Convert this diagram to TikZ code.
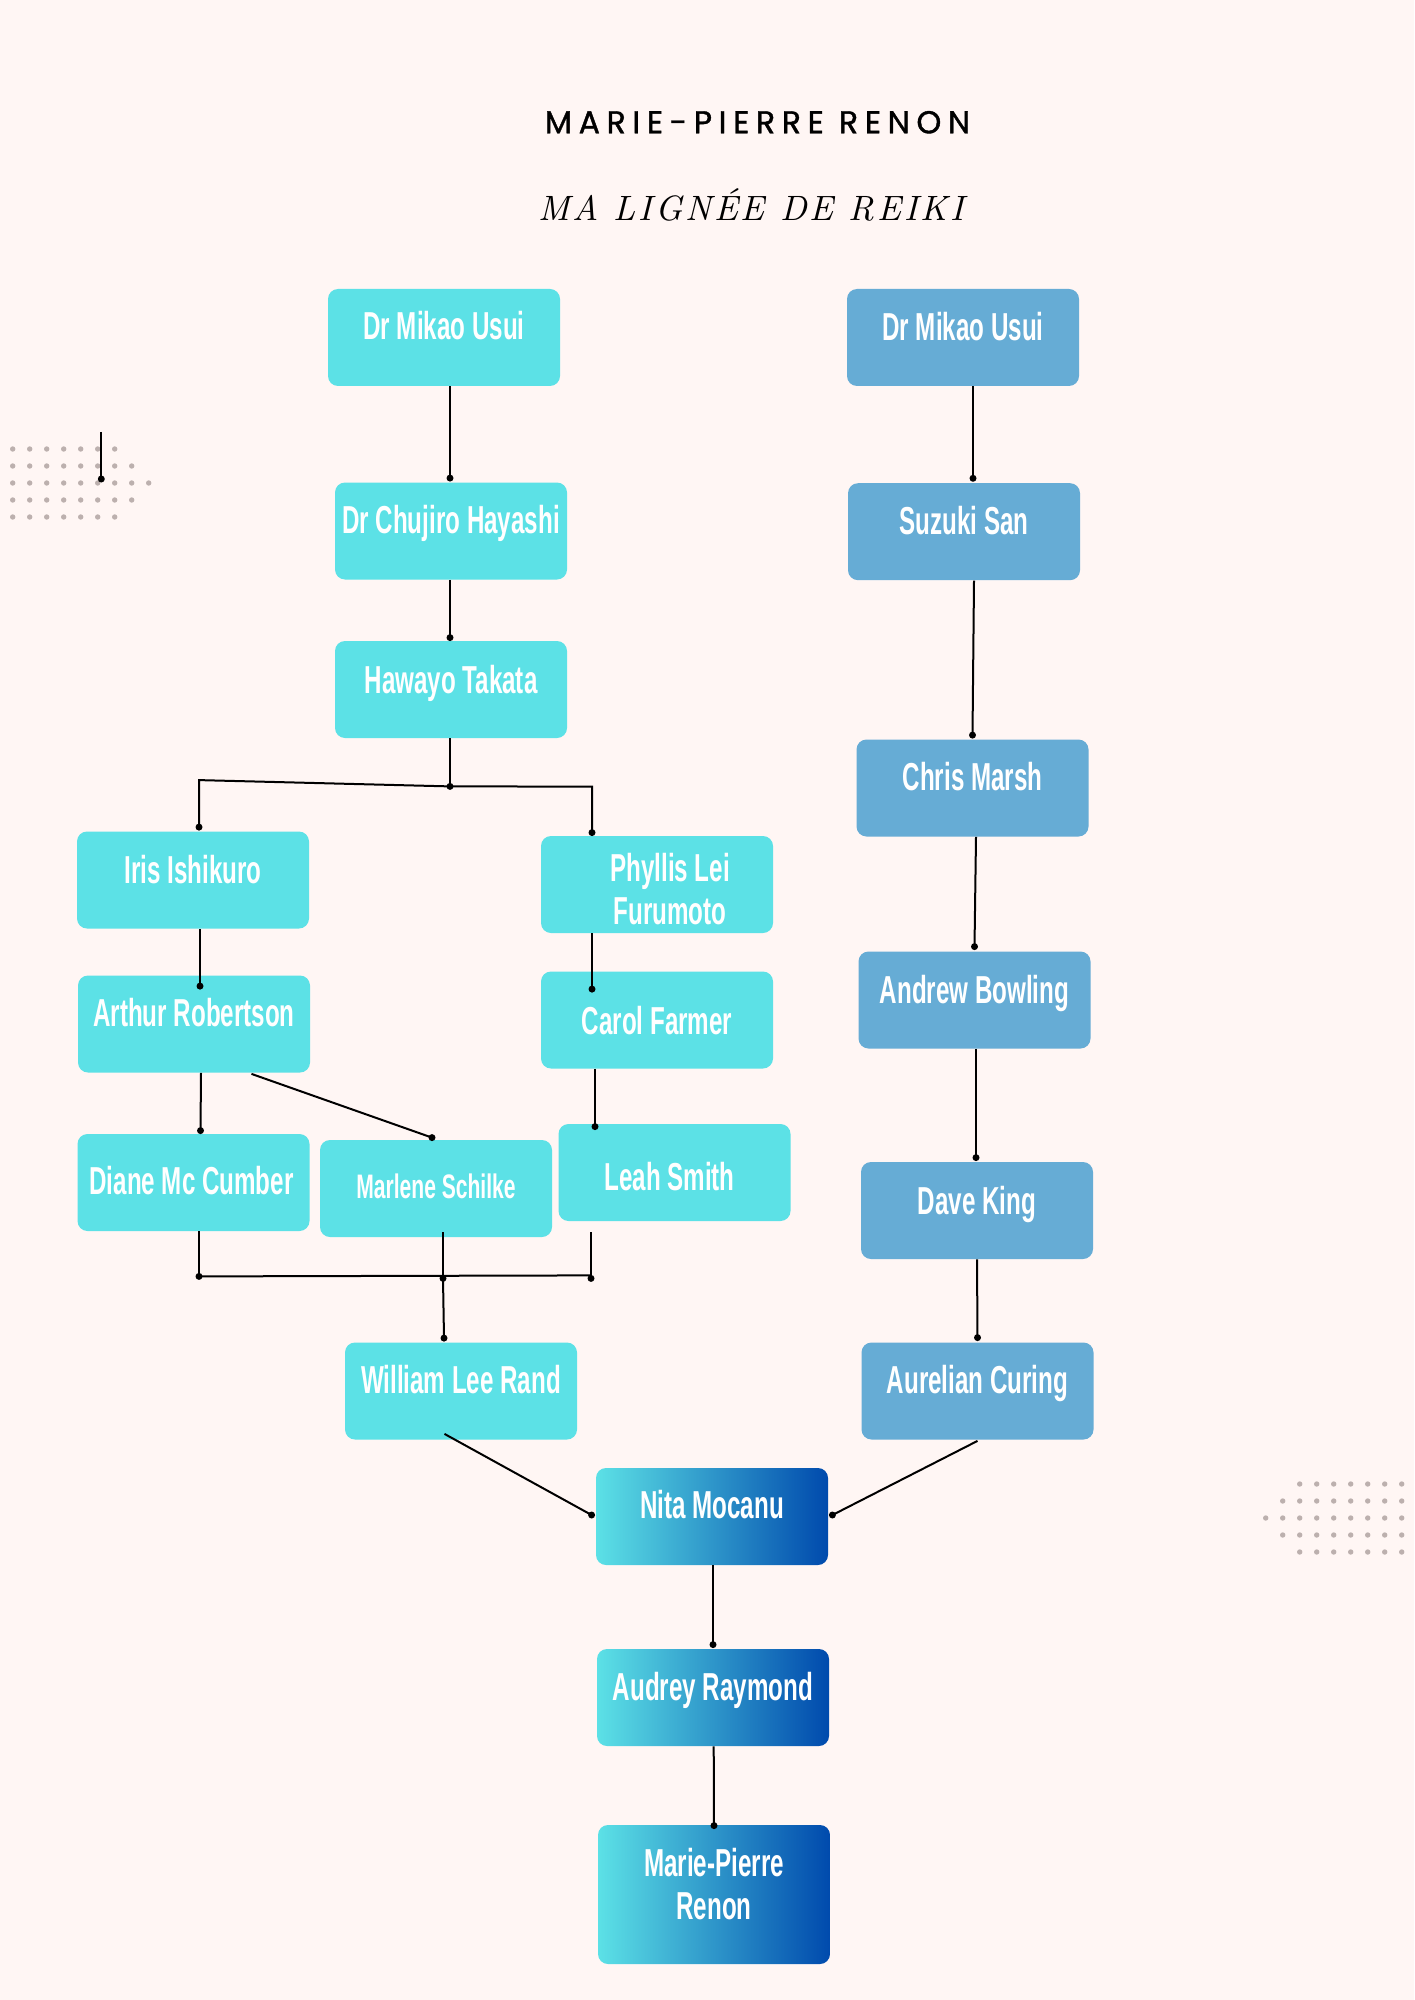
\documentclass[tikz,border=0pt]{standalone}
\usepackage{fontspec}
\usetikzlibrary{calc}
\newfontfamily\boxfont{Liberation Sans}[FakeStretch=0.62]
\newfontfamily\titlefont{Poppins}[LetterSpace=21, FakeBold=1.2]
\newfontfamily\subfont{lmroman10-italic.otf}[LetterSpace=8]
\definecolor{bg}{HTML}{FFF6F4}
\definecolor{cyanbox}{HTML}{5CE1E6}
\definecolor{bluebox}{HTML}{66ACD5}
\definecolor{gleft}{HTML}{5CE1E6}
\definecolor{gright}{HTML}{004AAD}
\definecolor{deco}{HTML}{BCB0AE}
\tikzset{
  box/.style={rectangle, rounded corners=5pt, minimum width=116pt, minimum height=48.5pt, inner sep=0pt, draw=none},
  cbox/.style={box, fill=cyanbox},
  bbox/.style={box, fill=bluebox},
  gbox/.style={box, left color=gleft, right color=gright},
  lbl/.style={anchor=base, text=white, inner sep=0pt, font=\boxfont\bfseries\fontsize{19.5}{23}\selectfont},
  conn/.style={line width=1pt, draw=black},
}
\newcommand{\jdot}[1]{\fill[black] (#1) circle[radius=1.75pt];}
\begin{document}
\begin{tikzpicture}[x=0.5pt,y=-0.5pt]
\fill[bg] (0,0) rectangle (1414,2000);
\useasboundingbox (0,0) rectangle (1414,2000);

% titles
\node[anchor=base, inner sep=0pt, font=\titlefont\fontsize{15.8}{18}\selectfont] (title) at (757.5,133.3) {MARIE-PIERRE RENON};
\node[anchor=base, inner sep=0pt, font=\subfont\fontsize{17.6}{20}\selectfont] (subtitle) at (751,220.7) {MA LIGNÉE DE REIKI};

% decorations
\foreach \r/\a/\b in {449/0/6, 466/0/7, 483/0/8, 500/0/7, 517/0/6}{
  \foreach \k in {\a,...,\b}{ \fill[deco] ({12.7+17*\k},\r) circle[radius=1.35pt]; }
}
\foreach \r/\a/\b in {1484/2/8, 1501/1/8, 1518/0/8, 1535/1/8, 1552/2/8}{
  \foreach \k in {\a,...,\b}{ \fill[deco] ({1265.7+17*\k},\r) circle[radius=1.35pt]; }
}
\coordinate (strayA) at (101.3,432);
\coordinate (strayB) at (101.3,479);
\draw[conn] (strayA) -- (strayB); \jdot{strayB}

% left lineage boxes
\node[cbox] (usuiL)   at (444,337.5) {};
\node[cbox] (chujiro) at (451,531) {};
\node[cbox] (takata)  at (451,689.5) {};
\node[cbox] (iris)    at (193,880) {};
\node[cbox] (phyllis) at (657,884.5) {};
\node[cbox] (arthur)  at (194,1024) {};
\node[cbox] (carol)   at (657,1020) {};
\node[cbox] (diane)   at (193.5,1182.5) {};
\node[cbox] (marlene) at (436,1188.5) {};
\node[cbox] (leah)    at (674.5,1172.5) {};
\node[cbox] (william) at (461,1391) {};
% right lineage boxes
\node[bbox] (usuiR)    at (963,337.5) {};
\node[bbox] (suzuki)   at (964,531.7) {};
\node[bbox] (chris)    at (972.5,788) {};
\node[bbox] (andrew)   at (974.5,1000) {};
\node[bbox] (dave)     at (977,1210.5) {};
\node[bbox] (aurelian) at (977.5,1391) {};
% gradient boxes
\node[gbox] (nita)   at (712,1516.5) {};
\node[gbox] (audrey) at (713,1697.5) {};
\node[gbox, minimum height=69.5pt] (marie) at (714,1894.5) {};

% labels
\node[lbl] (usuiLt)   at ($(usuiL.north)+(0,51)$) {Dr Mikao Usui};
\node[lbl] (chujirot) at ($(chujiro.north)+(0,51)$) {Dr Chujiro Hayashi};
\node[lbl] (takatat)  at ($(takata.north)+(0,53)$) {Hawayo Takata};
\node[lbl] (irist)    at ($(iris.north)+(0,52)$) {Iris Ishikuro};
\node[lbl] (phyllist) at ($(phyllis.north)+(13,46)$) {Phyllis Lei};
\node[lbl] (phyllisu) at ($(phyllis.north)+(13,89)$) {Furumoto};
\node[lbl] (arthurt)  at ($(arthur.north)+(0,51)$) {Arthur Robertson};
\node[lbl] (carolt)   at ($(carol.north)+(0,63)$) {Carol Farmer};
\node[lbl] (dianet)   at ($(diane.north)+(-2,61)$) {Diane Mc Cumber};
\node[lbl, font=\boxfont\bfseries\fontsize{17}{20}\selectfont] (marlenet) at ($(marlene.north)+(0,59)$) {Marlene Schilke};
\node[lbl] (leaht)    at ($(leah.north)+(-5,67)$) {Leah Smith};
\node[lbl] (williamt) at ($(william.north)+(0,51)$) {William Lee Rand};
\node[lbl] (usuiRt)   at ($(usuiR.north)+(0,52)$) {Dr Mikao Usui};
\node[lbl] (suzukit)  at ($(suzuki.north)+(0,52)$) {Suzuki San};
\node[lbl] (christ)   at ($(chris.north)+(0,51)$) {Chris Marsh};
\node[lbl] (andrewt)  at ($(andrew.north)+(0,52)$) {Andrew Bowling};
\node[lbl] (davet)    at ($(dave.north)+(0,52.5)$) {Dave King};
\node[lbl] (aureliant) at ($(aurelian.north)+(0,51)$) {Aurelian Curing};
\node[lbl] (nitat)    at ($(nita.north)+(0,51)$) {Nita Mocanu};
\node[lbl] (audreyt)  at ($(audrey.north)+(0,52)$) {Audrey Raymond};
\node[lbl] (mariet)   at ($(marie.north)+(0,52)$) {Marie-Pierre};
\node[lbl] (marieu)   at ($(marie.north)+(0,95)$) {Renon};

% left connectors
\coordinate (c1e) at ($(chujiro.north)+(-1,-4)$);
\draw[conn] ($(usuiL.south)+(6,0)$) -- (c1e); \jdot{c1e}
\coordinate (c2e) at ($(takata.north)+(-1,-3)$);
\draw[conn] ($(chujiro.south)+(-1,0)$) -- (c2e); \jdot{c2e}
\coordinate (J1) at ($(takata.south)+(-1,48)$);
\draw[conn] ($(takata.south)+(-1,0)$) -- (J1); \jdot{J1}
\coordinate (irisd) at ($(iris.north)+(6,-4)$);
\coordinate (cornL) at ($(iris.north)+(6,-51)$);
\coordinate (cornR) at ($(phyllis.north)+(-65,-49)$);
\coordinate (phyld) at ($(phyllis.north)+(-65,-3)$);
\draw[conn] (irisd) -- (cornL) -- (J1) -- (cornR) -- (phyld); \jdot{irisd} \jdot{phyld}
\coordinate (c4e) at ($(arthur.north)+(6,11)$);
\draw[conn] ($(iris.south)+(7,0)$) -- (c4e); \jdot{c4e}
\coordinate (c5e) at ($(carol.north)+(-65,18)$);
\draw[conn] ($(phyllis.south)+(-65,0)$) -- (c5e); \jdot{c5e}
\coordinate (c6e) at ($(diane.north)+(7,-3)$);
\draw[conn] ($(arthur.south)+(7,0)$) -- (c6e); \jdot{c6e}
\coordinate (c7e) at ($(marlene.north)+(-4,-2)$);
\draw[conn] ($(arthur.south)+(57.5,1)$) -- (c7e); \jdot{c7e}
\coordinate (c8e) at ($(leah.north)+(-79.5,3)$);
\draw[conn] ($(carol.south)+(-62,0)$) -- (c8e); \jdot{c8e}
\coordinate (M1) at ($(diane.south)+(5.5,45)$);
\coordinate (M2) at ($(marlene.south)+(7,41)$);
\coordinate (M3) at ($(leah.south)+(-83.5,57)$);
\draw[conn] ($(diane.south)+(5.5,0)$) -- (M1);
\draw[conn] ($(marlene.south)+(7,-5)$) -- (M2);
\draw[conn] ($(leah.south)+(-83.5,11)$) -- (M3);
\draw[conn] (M1) -- ($(M3)+(0,-3)$);
\jdot{M1} \jdot{M2} \jdot{M3}
\coordinate (c10e) at ($(william.north)+(-17,-4)$);
\draw[conn] (M2) -- (c10e); \jdot{c10e}
\coordinate (c11e) at ($(nita.west)+(-4,-1.5)$);
\draw[conn] ($(william.south)+(-16.5,-6)$) -- (c11e); \jdot{c11e}
% right connectors
\coordinate (r1e) at ($(suzuki.north)+(9,-4.5)$);
\draw[conn] ($(usuiR.south)+(10,0)$) -- (r1e); \jdot{r1e}
\coordinate (r2e) at ($(chris.north)+(0,-4)$);
\draw[conn] ($(suzuki.south)+(10,0)$) -- (r2e); \jdot{r2e}
\coordinate (r3e) at ($(andrew.north)+(0,-4.5)$);
\draw[conn] ($(chris.south)+(3.5,0)$) -- (r3e); \jdot{r3e}
\coordinate (r4e) at ($(dave.north)+(-1,-4)$);
\draw[conn] ($(andrew.south)+(1.5,0)$) -- (r4e); \jdot{r4e}
\coordinate (r5e) at ($(aurelian.north)+(0,-4.5)$);
\draw[conn] (dave.south) -- (r5e); \jdot{r5e}
\coordinate (c12e) at ($(nita.east)+(4,-1.5)$);
\draw[conn] ($(aurelian.south)+(0,1)$) -- (c12e); \jdot{c12e}
% bottom chain
\coordinate (c13e) at ($(audrey.north)+(0,-4)$);
\draw[conn] ($(nita.south)+(1,0)$) -- (c13e); \jdot{c13e}
\coordinate (c14e) at ($(marie.north)+(0,1)$);
\draw[conn] ($(audrey.south)+(0.7,0)$) -- (c14e); \jdot{c14e}
\end{tikzpicture}
\end{document}
